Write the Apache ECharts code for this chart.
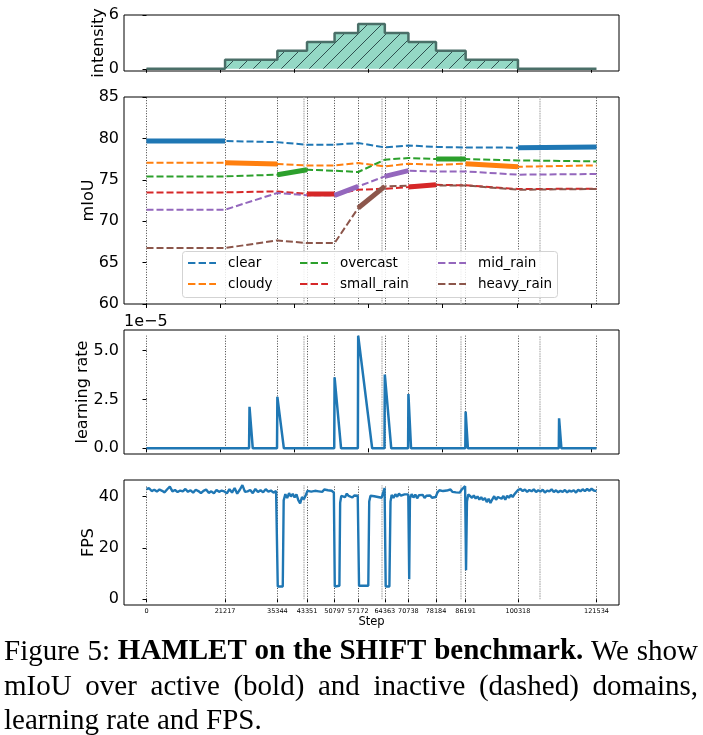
<!DOCTYPE html>
<html><head><meta charset="utf-8">
<script src="https://cdn.jsdelivr.net/npm/echarts@6/dist/echarts.min.js"></script>
<style>html,body{margin:0;padding:0;background:#fff}#c{width:703px;height:735px}</style>
</head><body><div id="c"></div><script>
// ---------------- data ----------------
const steps = [0, 21217, 35344, 43351, 50797, 57172, 64363, 70738, 78184, 86191, 100318, 121534];
const intensity = [0, 1, 2, 3, 4, 5, 4, 3, 2, 1, 0];            // per interval between steps
const extraMarks = [42456, 63575, 84803, 106113];                 // light gray markers
const topTicks = [0, 20000, 40000, 60000, 80000, 100000, 120000];
const domains = ['clear', 'cloudy', 'overcast', 'small_rain', 'mid_rain', 'heavy_rain'];
const colors = ['#1f77b4', '#ff7f0e', '#2ca02c', '#d62728', '#9467bd', '#8c564b'];

const mIoU_clear      = [79.69, 79.69, 79.55, 79.24, 79.24, 79.44, 78.91, 79.15, 78.96, 78.91, 78.88, 78.96];
const mIoU_cloudy     = [77.05, 77.05, 76.91, 76.74, 76.74, 77.03, 76.62, 76.94, 76.80, 76.94, 76.58, 76.74];
const mIoU_overcast   = [75.41, 75.41, 75.62, 76.22, 76.10, 75.94, 77.43, 77.63, 77.51, 77.51, 77.34, 77.22];
const mIoU_small_rain = [73.48, 73.48, 73.60, 73.30, 73.28, 73.80, 73.92, 74.12, 74.40, 74.33, 73.89, 73.92];
const mIoU_mid_rain   = [71.39, 71.39, 73.41, 73.12, 73.12, 74.20, 75.41, 76.10, 76.01, 76.01, 75.62, 75.70];
const mIoU_heavy_rain = [66.76, 66.76, 67.68, 67.36, 67.36, 71.59, 74.20, 74.29, 74.32, 74.32, 73.80, 73.89];
const mIoU = [mIoU_clear, mIoU_cloudy, mIoU_overcast, mIoU_small_rain, mIoU_mid_rain, mIoU_heavy_rain];

const lrPoints = [
  [0,0],[27700,0],[27820,2.13e-5],[28700,0],
  [35250,0],[35344,2.64e-5],[37100,0],
  [50700,0],[50797,3.64e-5],[52550,0],
  [57080,0],[57172,5.77e-5],[60950,0],
  [64270,0],[64363,3.78e-5],[66100,0],
  [70650,0],[70738,2.78e-5],[71450,0],
  [86100,0],[86191,1.88e-5],[86800,0],
  [111350,0],[111430,1.54e-5],[112050,0],
  [121534,0]
];
const lrTicks = [0, 2.5e-5, 5e-5];

const fpsPoints = [
  [0,42.9],[700,43.2],[1400,42.1],[2100,42.6],[2800,41.9],[3500,42.7],[4200,42.2],[4900,41.6],[5600,42.8],[6300,43.8],
  [7000,42.0],[7700,42.5],[8400,41.7],[9100,42.3],[9800,42.0],[10500,42.9],[11200,41.8],[11900,42.4],[12600,41.5],[13300,42.6],
  [14000,42.1],[14700,41.3],[15400,42.2],[16100,42.7],[16800,41.4],[17500,42.0],[18200,41.2],[18900,42.5],[19600,41.8],[20300,42.3],
  [21000,42.0],[21700,41.2],[22400,42.8],[23100,41.5],[23800,43.3],[24500,41.1],[25200,42.6],[25900,44.4],[26600,41.8],[27300,42.0],
  [28000,42.5],[28700,41.3],[29400,42.9],[30100,41.7],[30800,42.4],[31500,41.6],[32200,42.8],[32900,41.9],[33600,42.3],[34300,41.5],
  [35000,42.1],[35250,41.8],[35450,5.0],[36800,5.0],[37050,38.5],
  [37500,40.9],[38000,39.4],[38500,41.3],[39000,40.0],[39500,41.0],[40000,39.6],[40500,40.8],[41000,38.6],[41500,37.3],[42000,39.8],
  [42500,38.9],[43000,40.5],
  [43500,42.2],[44000,42.7],[44500,41.9],[45000,42.6],[45500,42.2],[46000,42.9],[46500,42.0],[47000,42.5],[47500,41.8],[48000,42.7],
  [48500,42.1],[49000,42.4],[49500,41.7],[50000,42.2],[50600,41.5],
  [50850,5.0],[52100,5.3],[52300,37.5],[52600,40.2],
  [53100,40.8],[53600,39.7],[54100,41.1],[54600,40.2],[55100,40.6],[55600,39.6],[56100,40.4],[56600,39.8],[57050,40.3],
  [57400,5.3],[59900,5.3],[60150,38.0],[60500,40.3],
  [61000,41.0],[61500,40.1],[62000,40.7],[62500,39.8],[63000,40.4],[63500,39.5],[64000,40.0],[64300,43.3],
  [64600,5.0],[65600,5.0],[65900,38.0],[66200,40.6],
  [66700,39.4],[67200,40.9],[67700,39.9],[68200,41.1],[68700,40.3],[69200,39.6],[69700,40.8],[70200,40.1],[70700,40.8],
  [70950,7.8],[71150,39.2],
  [71600,40.9],[72100,39.6],[72600,40.7],[73100,39.3],[73600,40.5],[74100,39.9],[74600,40.6],[75100,39.4],[75600,40.3],[76100,39.7],
  [76600,40.4],[77100,39.5],[77600,40.2],[78100,39.8],
  [78600,41.6],[79100,42.4],[79600,42.9],[80100,42.1],[80600,42.8],[81100,42.3],[81600,41.9],[82100,42.7],[82600,41.8],[83100,42.4],
  [83600,41.6],[84100,42.3],[84600,41.5],[85100,42.6],[85600,42.0],[86050,44.0],
  [86300,11.3],[86550,38.0],[86900,40.8],
  [87400,40.1],[87900,39.5],[88400,40.4],[88900,39.2],[89400,40.0],[89900,38.8],[90400,39.7],[90900,38.6],[91400,39.4],[91900,37.8],
  [92400,39.1],[92900,37.5],[93400,38.9],[93900,40.1],[94400,38.7],[94900,39.8],[95400,40.5],[95900,39.1],[96400,40.2],[96900,38.7],
  [97400,40.3],[97900,39.5],[98400,40.6],[98900,39.8],[99400,40.9],[99900,41.4],
  [100400,42.6],[101000,42.9],[101600,42.1],[102200,42.7],[102800,41.8],[103400,42.5],[104000,42.0],[104600,42.8],[105200,41.7],[105800,42.4],
  [106400,41.9],[107000,42.6],[107600,41.5],[108200,42.3],[108800,42.0],[109400,42.8],[110000,41.7],[110600,42.4],[111200,41.6],[111800,42.2],
  [112400,41.8],[113000,42.5],[113600,41.6],[114200,42.3],[114800,41.9],[115400,42.4],[116000,41.5],[116600,42.6],[117200,42.0],[117800,42.8],
  [118400,42.1],[119000,42.9],[119600,42.2],[120200,43.0],[120800,42.3],[121534,42.1]
];
const fpsTicks = [0, 20, 40];

// ---------------- layout ----------------
const X_MIN = -6077, X_MAX = 127611;
const L = 124, W = 495;
const grids = [
  {left: L, top: 15, width: W, height: 56},
  {left: L, top: 97, width: W, height: 207},
  {left: L, top: 330, width: W, height: 124},
  {left: L, top: 480, width: W, height: 125}
];
const FONT = 'DejaVu Sans';

function xAxisFor(i, bottom) {
  return {
    type: 'value', gridIndex: i, min: X_MIN, max: X_MAX,
    axisLine: {show: false}, splitLine: {show: false},
    axisTick: {show: true, length: bottom ? 3 : 4, lineStyle: {color: '#000', width: 1},
               customValues: bottom ? steps : topTicks},
    axisLabel: bottom ? {show: true, customValues: steps, fontSize: 6.5, color: '#000', margin: 3, fontFamily: FONT,
                         formatter: v => String(v)} : {show: false},
    name: bottom ? 'Step' : '', nameLocation: 'middle', nameGap: 11, nameMoveOverlap: false,
    nameTextStyle: {fontSize: 11.5, color: '#000', fontFamily: FONT}
  };
}
function yAxisFor(i, min, max, ticks, name, gap, fmt) {
  return {
    type: 'value', gridIndex: i, min: min, max: max,
    axisLine: {show: false}, splitLine: {show: false},
    axisTick: {show: true, length: 4, lineStyle: {color: '#000', width: 1}, customValues: ticks},
    axisLabel: {show: true, customValues: ticks, fontSize: 16, color: '#000', margin: 5, fontFamily: FONT,
                formatter: fmt || (v => String(v))},
    name: name, nameLocation: 'middle', nameRotate: 90, nameGap: gap, nameMoveOverlap: false,
    nameTextStyle: {fontSize: 16, color: '#000', fontFamily: FONT}
  };
}

// hatch pattern for intensity area
const pat = document.createElement('canvas');
pat.width = 14; pat.height = 14;
(function () {
  const c = pat.getContext('2d');
  c.fillStyle = '#94d8c5'; c.fillRect(0, 0, 14, 14);
  c.strokeStyle = '#2f4f4f'; c.lineWidth = 1;
  c.beginPath();
  c.moveTo(-1, 15); c.lineTo(15, -1);
  c.moveTo(-8, 8); c.lineTo(8, -8);
  c.moveTo(6, 22); c.lineTo(22, 6);
  c.stroke();
})();

// ---------------- series ----------------
const series = [];
const intensityData = steps.map((s, i) => [s, i < intensity.length ? intensity[i] : intensity[intensity.length - 1]]);
series.push({
  type: 'line', xAxisIndex: 0, yAxisIndex: 0, step: 'end', symbol: 'none', data: intensityData,
  lineStyle: {color: '#4a6f68', width: 2.5}, areaStyle: {color: {image: pat, repeat: 'repeat'}, opacity: 1},
  silent: true
});

const darkLine = {color: 'rgba(0,0,0,0.75)', width: 1, type: [1, 1.6]};
const lightLine = {color: '#c4c4c4', width: 1.6, type: [1.6, 0.8]};

domains.forEach((d, k) => {
  const s = {
    type: 'line', name: d, xAxisIndex: 1, yAxisIndex: 1, symbol: 'none', z: 2,
    data: steps.map((x, i) => [x, mIoU[k][i]]),
    lineStyle: {color: colors[k], width: 2, type: [7, 3]}, itemStyle: {color: colors[k]}, silent: true
  };
  if (k === 0) {
    s.markLine = {
      silent: true, symbol: ['none', 'none'], label: {show: false}, z: 1, animation: false,
      data: steps.map(v => ({xAxis: v, lineStyle: darkLine})).concat(extraMarks.map(v => ({xAxis: v, lineStyle: lightLine})))
    };
  }
  series.push(s);
});
domains.forEach((d, k) => {
  const data = [];
  intensity.forEach((lev, i) => {
    if (lev === k) data.push([steps[i], mIoU[k][i]], [steps[i + 1], mIoU[k][i + 1]], [steps[i + 1], '-']);
  });
  series.push({
    type: 'line', name: d + ' (active)', xAxisIndex: 1, yAxisIndex: 1, symbol: 'none', z: 3,
    data: data, connectNulls: false,
    lineStyle: {color: colors[k], width: 5, cap: 'butt'}, silent: true
  });
});

const lrMax = Math.max(...lrPoints.map(p => p[1]));
series.push({
  type: 'line', xAxisIndex: 2, yAxisIndex: 2, symbol: 'none', data: lrPoints, z: 3,
  lineStyle: {color: '#1f77b4', width: 2.5}, silent: true,
  markLine: {
    silent: true, symbol: ['none', 'none'], label: {show: false}, z: 1, animation: false,
    data: steps.map(v => [{coord: [v, 0], lineStyle: darkLine}, {coord: [v, lrMax]}])
      .concat(extraMarks.map(v => [{coord: [v, 0], lineStyle: lightLine}, {coord: [v, lrMax]}]))
  }
});

const fpsMax = Math.max(...fpsPoints.map(p => p[1]));
series.push({
  type: 'line', xAxisIndex: 3, yAxisIndex: 3, symbol: 'none', data: fpsPoints, z: 3,
  lineStyle: {color: '#1f77b4', width: 2.4}, silent: true,
  markLine: {
    silent: true, symbol: ['none', 'none'], label: {show: false}, z: 1, animation: false,
    data: steps.map(v => [{coord: [v, 0], lineStyle: darkLine}, {coord: [v, fpsMax]}])
      .concat(extraMarks.map(v => [{coord: [v, 0], lineStyle: lightLine}, {coord: [v, fpsMax]}]))
  }
});

// ---------------- legends ----------------
const dashIcon = 'path://M0,0h7.4v2.2h-7.4z M10.6,0h7.4v2.2h-7.4z M21.2,0h6.8v2.2h-6.8z';
const legendCols = [[domains[0], domains[1]], [domains[2], domains[3]], [domains[4], domains[5]]];
const legendLeft = [188, 300, 438];
const legends = legendCols.map((names, i) => ({
  data: names.map(n => ({name: n, icon: dashIcon})), orient: 'vertical', left: legendLeft[i], top: 256, padding: 0,
  itemWidth: 28, itemHeight: 2.2, itemGap: 7, selectedMode: false, z: 10, symbolKeepAspect: false,
  textStyle: {fontSize: 13.5, color: '#000', fontFamily: FONT, lineHeight: 14, padding: [0, 0, 0, 7]}
}));

// ---------------- caption ----------------
const capFamily = '"Liberation Serif", "Times New Roman", serif';
const capSize = 29;
const captionLines = [
  {y: 652, justify: true, segs: [['Figure 5:', false], ['HAMLET on the SHIFT benchmark.', true], ['We show', false]]},
  {y: 687, justify: true, segs: [['mIoU over active (bold) and inactive (dashed) domains,', false]]},
  {y: 721, justify: false, segs: [['learning rate and FPS.', false]]}
];
const capLeft = 4, capRight = 698;
const mctx = document.createElement('canvas').getContext('2d');
const fontOf = b => (b ? 'bold ' : '') + capSize + 'px ' + capFamily;
const graphics = [];
captionLines.forEach(line => {
  const words = [];
  line.segs.forEach(([t, b]) => t.split(' ').forEach(w => words.push({w, b})));
  words.forEach(o => { mctx.font = fontOf(o.b); o.width = mctx.measureText(o.w).width; });
  mctx.font = fontOf(false);
  const space = mctx.measureText(' ').width;
  const total = words.reduce((a, o) => a + o.width, 0);
  const gap = line.justify ? (capRight - capLeft - total) / (words.length - 1) : space;
  let x = capLeft;
  words.forEach(o => {
    graphics.push({type: 'text', x: x, y: line.y, silent: true,
      style: {text: o.w, font: fontOf(o.b), fill: '#000', align: 'left', verticalAlign: 'middle',
              textAlign: 'left', textVerticalAlign: 'middle'}});
    x += o.width + gap;
  });
});
graphics.push({type: 'text', x: L, y: 322, silent: true,
  style: {text: '1e\u22125', font: '16px "DejaVu Sans"', fill: '#000', align: 'left', verticalAlign: 'middle',
          textAlign: 'left', textVerticalAlign: 'middle'}});
graphics.push({type: 'rect', z: 6, silent: true, shape: {x: 182.5, y: 251.5, width: 375, height: 46, r: 3},
  style: {fill: 'rgba(255,255,255,0.85)', stroke: '#d3d3d3', lineWidth: 1}});

// ---------------- option ----------------
const option = {
  animation: false,
  backgroundColor: '#fff',
  textStyle: {fontFamily: FONT},
  grid: grids.map(g => Object.assign({show: true, borderColor: '#000', borderWidth: 1, backgroundColor: 'transparent',
                                      containLabel: false, outerBoundsMode: 'none'}, g)),
  xAxis: [xAxisFor(0, false), xAxisFor(1, false), xAxisFor(2, false), xAxisFor(3, true)],
  yAxis: [
    yAxisFor(0, -0.25, 6, [0, 6], 'intensity', 17),
    yAxisFor(1, 60, 85, [60, 65, 70, 75, 80, 85], 'mIoU', 27),
    yAxisFor(2, -0.29e-5, 6.06e-5, lrTicks, 'learning rate', 33, v => (v * 1e5).toFixed(1)),
    yAxisFor(3, -2.2, 46.4, fpsTicks, 'FPS', 27)
  ],
  legend: legends,
  graphic: graphics,
  series: series
};
const chart = echarts.init(document.getElementById('c'), null, {renderer: 'canvas'});
chart.setOption(option);
</script></body></html>
